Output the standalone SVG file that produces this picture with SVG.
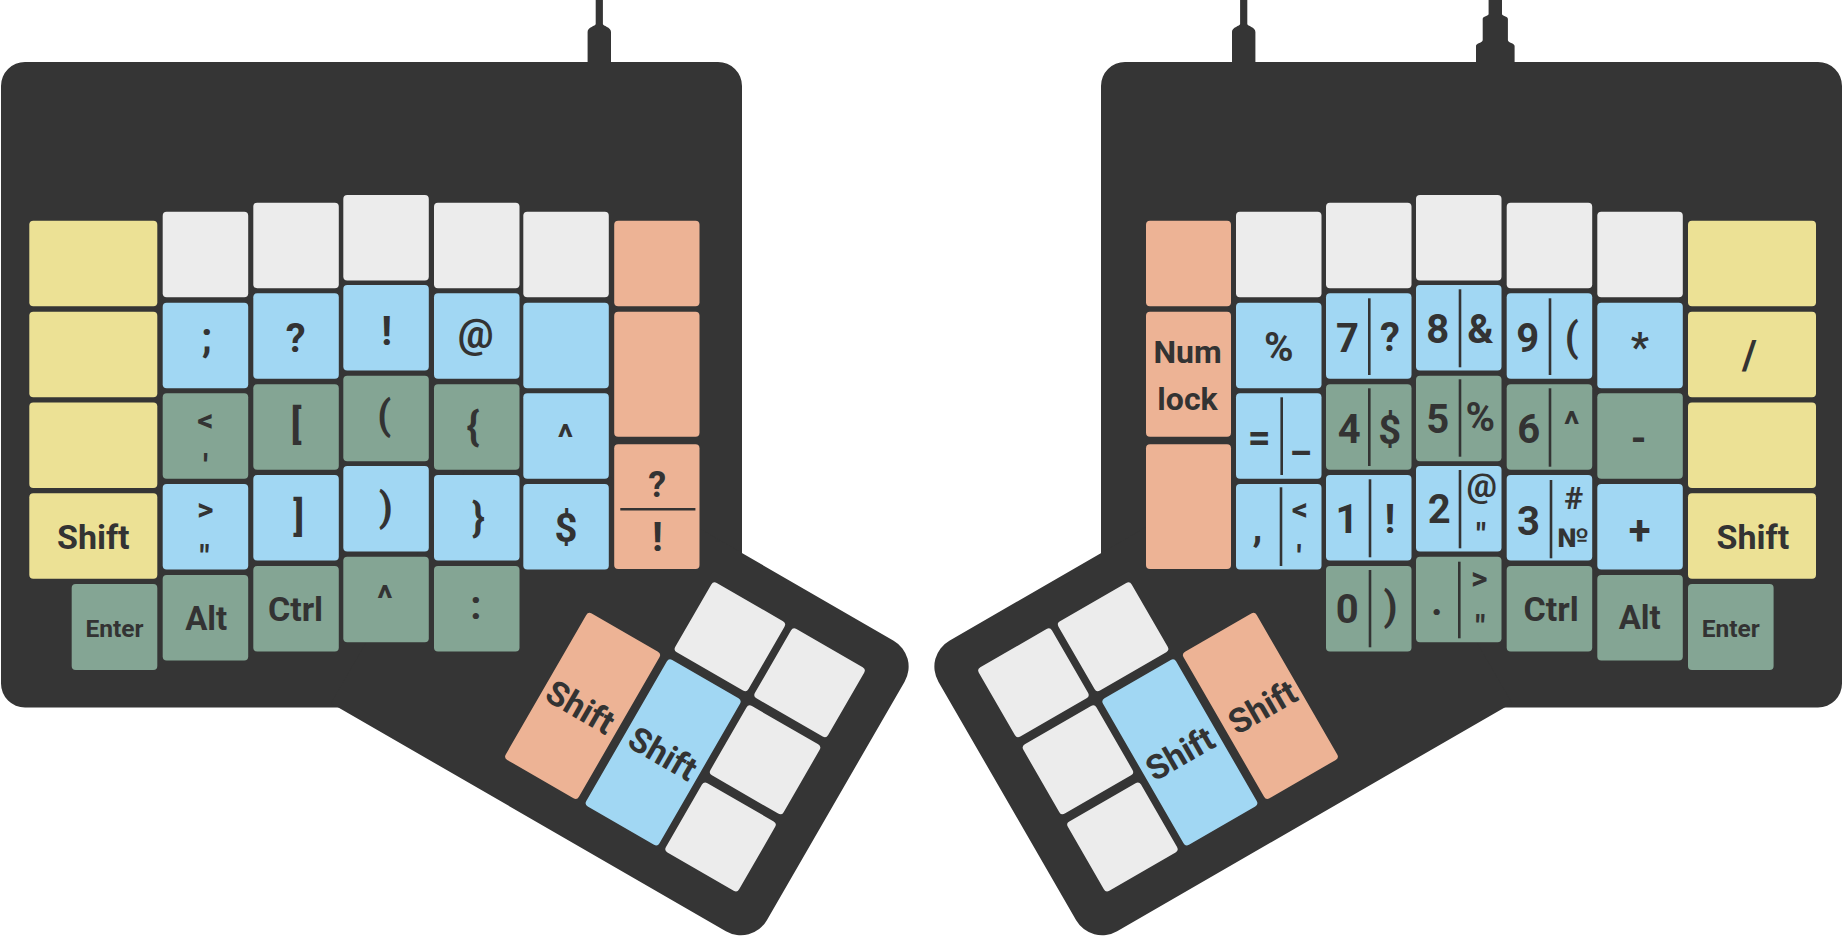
<svg xmlns="http://www.w3.org/2000/svg" width="1843" height="938" viewBox="0 0 1843 938">
<style>
.body{fill:#353535}
.kw{fill:#ececec}.kb{fill:#a1d7f3}.kg{fill:#84a594}.ky{fill:#ece195}.ko{fill:#edb395}
text{font-family:Roboto,"Liberation Sans",sans-serif;font-weight:700;fill:#333;text-anchor:middle;font-size:40px}
.s34{font-size:34px}.s32{font-size:32px}.s30{font-size:30px}.s26{font-size:26px}.s24{font-size:24.5px}.s36{font-size:36px}.s33{font-size:33px}
.div{stroke:#333;stroke-width:2.6;fill:none}
</style>
<defs>
<g id="half">
<path class="body" d="M1,86 A24,24 0 0 1 25,62 H718 A24,24 0 0 1 742,86 V707.5 H25 A24,24 0 0 1 1,683.5 Z"/>
<path class="body" transform="translate(713.3,581) rotate(30)" d="M-270,-38.5 H186 A30,30 0 0 1 216,-8.5 V267 A30,30 0 0 1 186,297 H-270 Z"/>
<path class="body" d="M595.7,0 V24 C595.7,26 587.6,27 587.6,32 V66 H611 V32 C611,27 602.9,26 602.9,24 V0 Z"/>
<g transform="translate(713.3,581) rotate(30)">
<rect class="kw" x="0" y="0" width="84.5" height="80" rx="4"/>
<rect class="kw" x="92" y="0" width="84.5" height="80" rx="4"/>
<rect class="kw" x="92" y="89" width="84.5" height="80" rx="4"/>
<rect class="kw" x="92" y="178" width="84.5" height="80" rx="4"/>
<rect class="kb" x="0" y="89" width="84.5" height="169" rx="4"/>
<rect class="ko" x="-93" y="89" width="84.5" height="169" rx="4"/>
</g>
</g>
</defs>
<g id="left-body"><use href="#half"/></g>
<g id="right-body"><use href="#half" transform="translate(1843,0) scale(-1,1)"/>
<path class="body" d="M1488.6,0 V14 C1488.6,16 1482.7,16 1482.7,19 V40 C1482.7,43 1476,43 1476,46 V66 H1514.6 V46 C1514.6,43 1507.9,43 1507.9,40 V19 C1507.9,16 1502,16 1502,14 V0 Z"/>
</g>

<g id="left-thumb-text">
<text class="s34" transform="translate(580.5,707) rotate(30)" y="12">Shift</text>
<text class="s34" transform="translate(663,753.5) rotate(30)" y="12">Shift</text>
</g>
<g id="right-thumb-text">
<text class="s34" transform="translate(1180,753.5) rotate(-30)" y="12">Shift</text>
<text class="s34" transform="translate(1262.5,707) rotate(-30)" y="12">Shift</text>
</g>

<!-- LEFT -->
<g id="l-y1"><rect class="ky" x="29.3" y="220.7" width="128" height="85.5" rx="4"/></g>
<g id="l-y2"><rect class="ky" x="29.3" y="311.7" width="128" height="85.5" rx="4"/></g>
<g id="l-y3"><rect class="ky" x="29.3" y="402.5" width="128" height="85.5" rx="4"/></g>
<g id="l-shift"><rect class="ky" x="29.3" y="493.3" width="128" height="85.5" rx="4"/><text class="s34" x="93.3" y="549.3">Shift</text></g>
<g id="l-enter"><rect class="kg" x="71.7" y="584" width="85.6" height="86" rx="4"/><text class="s24" x="114.5" y="636.7">Enter</text></g>

<g id="l-c1-w"><rect class="kw" x="162.7" y="211.7" width="85.5" height="85.5" rx="4"/></g>
<g id="l-c1-semi"><rect class="kb" x="162.7" y="302.7" width="85.5" height="85.5" rx="4"/><text x="206.7" y="351">;</text></g>
<g id="l-c1-lt"><rect class="kg" x="162.7" y="393.3" width="85.5" height="85.5" rx="4"/><text class="s32" x="205.3" y="431">&lt;</text><text class="s32" x="205.7" y="476">'</text></g>
<g id="l-c1-gt"><rect class="kb" x="162.7" y="484" width="85.5" height="85.5" rx="4"/><text class="s32" x="205.3" y="520">&gt;</text><text class="s32" x="204.7" y="567">"</text></g>
<g id="l-c1-alt"><rect class="kg" x="162.7" y="575" width="85.5" height="85.5" rx="4"/><text class="s33" x="206.2" y="630">Alt</text></g>

<g id="l-c2-w"><rect class="kw" x="253.3" y="202.7" width="85.5" height="85.5" rx="4"/></g>
<g id="l-c2-q"><rect class="kb" x="253.3" y="293.3" width="85.5" height="85.5" rx="4"/><text x="295.8" y="351.7">?</text></g>
<g id="l-c2-lb"><rect class="kg" x="253.3" y="384.3" width="85.5" height="85.5" rx="4"/><text x="296" y="438">[</text></g>
<g id="l-c2-rb"><rect class="kb" x="253.3" y="475" width="85.5" height="85.5" rx="4"/><text x="298.7" y="530">]</text></g>
<g id="l-c2-ctrl"><rect class="kg" x="253.3" y="566" width="85.5" height="85.5" rx="4"/><text class="s34" x="295.5" y="620.7">Ctrl</text></g>

<g id="l-c3-w"><rect class="kw" x="343.3" y="195" width="85.5" height="85.5" rx="4"/></g>
<g id="l-c3-ex"><rect class="kb" x="343.3" y="285" width="85.5" height="85.5" rx="4"/><text x="386.7" y="345">!</text></g>
<g id="l-c3-lp"><rect class="kg" x="343.3" y="375.7" width="85.5" height="85.5" rx="4"/><text x="384.3" y="428.7">(</text></g>
<g id="l-c3-rp"><rect class="kb" x="343.3" y="466" width="85.5" height="85.5" rx="4"/><text x="385.8" y="521">)</text></g>
<g id="l-c3-caret"><rect class="kg" x="343.3" y="556.7" width="85.5" height="85.5" rx="4"/><text class="s36" x="385" y="610.6">^</text></g>

<g id="l-c4-w"><rect class="kw" x="434" y="202.7" width="85.5" height="85.5" rx="4"/></g>
<g id="l-c4-at"><rect class="kb" x="434" y="293.3" width="85.5" height="85.5" rx="4"/><text x="475.7" y="348">@</text></g>
<g id="l-c4-lc"><rect class="kg" x="434" y="384.3" width="85.5" height="85.5" rx="4"/><text x="473" y="440">{</text></g>
<g id="l-c4-rc"><rect class="kb" x="434" y="475" width="85.5" height="85.5" rx="4"/><text x="478.3" y="531">}</text></g>
<g id="l-c4-colon"><rect class="kg" x="434" y="566" width="85.5" height="85.5" rx="4"/><text x="476" y="619.3">:</text></g>

<g id="l-c5-w"><rect class="kw" x="523.3" y="211.7" width="85.5" height="85.5" rx="4"/></g>
<g id="l-c5-b"><rect class="kb" x="523.3" y="302.7" width="85.5" height="85.5" rx="4"/></g>
<g id="l-c5-caret"><rect class="kb" x="523.3" y="393.3" width="85.5" height="85.5" rx="4"/><text class="s36" x="565.3" y="449.6">^</text></g>
<g id="l-c5-dollar"><rect class="kb" x="523.3" y="484" width="85.5" height="85.5" rx="4"/><text x="566" y="542">$</text></g>

<g id="l-o1"><rect class="ko" x="614.2" y="220.7" width="85.3" height="85.5" rx="4"/></g>
<g id="l-o2"><rect class="ko" x="614.2" y="311.7" width="85.3" height="125" rx="4"/></g>
<g id="l-o3"><rect class="ko" x="614.2" y="444.3" width="85.3" height="124.7" rx="4"/><text class="s36" x="657.3" y="496.7">?</text><line class="div" x1="620.3" y1="509.3" x2="695.4" y2="509.3"/><text x="657.3" y="550.7">!</text></g>

<!-- RIGHT -->
<g id="r-o1"><rect class="ko" x="1146" y="220.7" width="85" height="85.5" rx="4"/></g>
<g id="r-numlock"><rect class="ko" x="1146" y="311.7" width="85" height="125" rx="4"/><text class="s32" x="1187.5" y="363.3">Num</text><text class="s32" x="1187.5" y="410">lock</text></g>
<g id="r-o3"><rect class="ko" x="1146" y="444.3" width="85" height="124.7" rx="4"/></g>

<g id="r-c5-w"><rect class="kw" x="1236" y="211.7" width="85.5" height="85.5" rx="4"/></g>
<g id="r-c5-pct"><rect class="kb" x="1236" y="302.7" width="85.5" height="85.5" rx="4"/><text x="1278.8" y="361">%</text></g>
<g id="r-c5-eq"><rect class="kb" x="1236" y="393.3" width="85.5" height="85.5" rx="4"/><text x="1259.2" y="451">=</text><line class="div" x1="1281.7" y1="397.3" x2="1281.7" y2="475"/><text x="1301.2" y="451">_</text></g>
<g id="r-c5-comma"><rect class="kb" x="1236" y="484" width="85.5" height="85.5" rx="4"/><text x="1257.5" y="541">,</text><line class="div" x1="1281" y1="487.3" x2="1281" y2="566"/><text class="s32" x="1300" y="520">&lt;</text><text class="s32" x="1299" y="567">'</text></g>

<g id="r-c4-w"><rect class="kw" x="1326" y="202.7" width="85.5" height="85.5" rx="4"/></g>
<g id="r-c4-7"><rect class="kb" x="1326" y="293.3" width="85.5" height="85.5" rx="4"/><text x="1347.5" y="351.7">7</text><line class="div" x1="1369.3" y1="298.3" x2="1369.3" y2="375"/><text x="1390" y="350.7">?</text></g>
<g id="r-c4-4"><rect class="kg" x="1326" y="384.3" width="85.5" height="85.5" rx="4"/><text x="1349.2" y="443.3">4</text><line class="div" x1="1369.3" y1="388.3" x2="1369.3" y2="466"/><text x="1389.7" y="444">$</text></g>
<g id="r-c4-1"><rect class="kb" x="1326" y="475" width="85.5" height="85.5" rx="4"/><text x="1347" y="533.3">1</text><line class="div" x1="1370" y1="479.3" x2="1370" y2="557.3"/><text x="1390" y="533.3">!</text></g>
<g id="r-c4-0"><rect class="kg" x="1326" y="566" width="85.5" height="85.5" rx="4"/><text x="1347.3" y="623.3">0</text><line class="div" x1="1370" y1="570" x2="1370" y2="647.3"/><text x="1390.5" y="620">)</text></g>

<g id="r-c3-w"><rect class="kw" x="1416" y="195" width="85.5" height="85.5" rx="4"/></g>
<g id="r-c3-8"><rect class="kb" x="1416" y="285" width="85.5" height="85.5" rx="4"/><text x="1437.8" y="343.3">8</text><line class="div" x1="1460" y1="289.3" x2="1460" y2="367.3"/><text x="1480.5" y="342.7">&amp;</text></g>
<g id="r-c3-5"><rect class="kg" x="1416" y="375.7" width="85.5" height="85.5" rx="4"/><text x="1437.8" y="433.3">5</text><line class="div" x1="1460" y1="379.3" x2="1460" y2="456.7"/><text x="1480.3" y="430.7">%</text></g>
<g id="r-c3-2"><rect class="kb" x="1416" y="466" width="85.5" height="85.5" rx="4"/><text x="1439.2" y="523.3">2</text><line class="div" x1="1460" y1="470" x2="1460" y2="548.3"/><text class="s34" x="1481.7" y="496.5">@</text><text class="s32" x="1481" y="545">"</text></g>
<g id="r-c3-dot"><rect class="kg" x="1416" y="556.7" width="85.5" height="85.5" rx="4"/><text x="1436.7" y="615">.</text><line class="div" x1="1459.3" y1="561.7" x2="1459.3" y2="638.3"/><text class="s32" x="1479.2" y="589.3">&gt;</text><text class="s32" x="1480.3" y="636.6">"</text></g>

<g id="r-c2-w"><rect class="kw" x="1506.7" y="202.7" width="85.5" height="85.5" rx="4"/></g>
<g id="r-c2-9"><rect class="kb" x="1506.7" y="293.3" width="85.5" height="85.5" rx="4"/><text x="1527.8" y="351.7">9</text><line class="div" x1="1550" y1="298.3" x2="1550" y2="375"/><text x="1571.7" y="351">(</text></g>
<g id="r-c2-6"><rect class="kg" x="1506.7" y="384.3" width="85.5" height="85.5" rx="4"/><text x="1528.7" y="443.3">6</text><line class="div" x1="1550" y1="388.3" x2="1550" y2="466.7"/><text class="s36" x="1571.7" y="437.3">^</text></g>
<g id="r-c2-3"><rect class="kb" x="1506.7" y="475" width="85.5" height="85.5" rx="4"/><text x="1528.5" y="535">3</text><line class="div" x1="1551" y1="480" x2="1551" y2="558.3"/><text class="s32" x="1573.8" y="509">#</text><text class="s26" x="1573.3" y="547.3" textLength="32" lengthAdjust="spacingAndGlyphs">№</text></g>
<g id="r-c2-ctrl"><rect class="kg" x="1506.7" y="566" width="85.5" height="85.5" rx="4"/><text class="s34" x="1551.2" y="620.7">Ctrl</text></g>

<g id="r-c1-w"><rect class="kw" x="1597.3" y="211.7" width="85.5" height="85.5" rx="4"/></g>
<g id="r-c1-star"><rect class="kb" x="1597.3" y="302.7" width="85.5" height="85.5" rx="4"/><text x="1639.8" y="361">*</text></g>
<g id="r-c1-minus"><rect class="kg" x="1597.3" y="393.3" width="85.5" height="85.5" rx="4"/><text x="1638.7" y="452">-</text></g>
<g id="r-c1-plus"><rect class="kb" x="1597.3" y="484" width="85.5" height="85.5" rx="4"/><text x="1639.7" y="544">+</text></g>
<g id="r-c1-alt"><rect class="kg" x="1597.3" y="575" width="85.5" height="85.5" rx="4"/><text class="s33" x="1639.7" y="629.3">Alt</text></g>

<g id="r-y1"><rect class="ky" x="1688" y="220.7" width="128" height="85.5" rx="4"/></g>
<g id="r-slash"><rect class="ky" x="1688" y="311.7" width="128" height="85.5" rx="4"/><text x="1749.3" y="368.7">/</text></g>
<g id="r-y3"><rect class="ky" x="1688" y="402.5" width="128" height="85.5" rx="4"/></g>
<g id="r-shift"><rect class="ky" x="1688" y="493.3" width="128" height="85.5" rx="4"/><text class="s34" x="1752.9" y="549.3">Shift</text></g>
<g id="r-enter"><rect class="kg" x="1688" y="584" width="85.6" height="86" rx="4"/><text class="s24" x="1730.8" y="636.7">Enter</text></g>
</svg>
